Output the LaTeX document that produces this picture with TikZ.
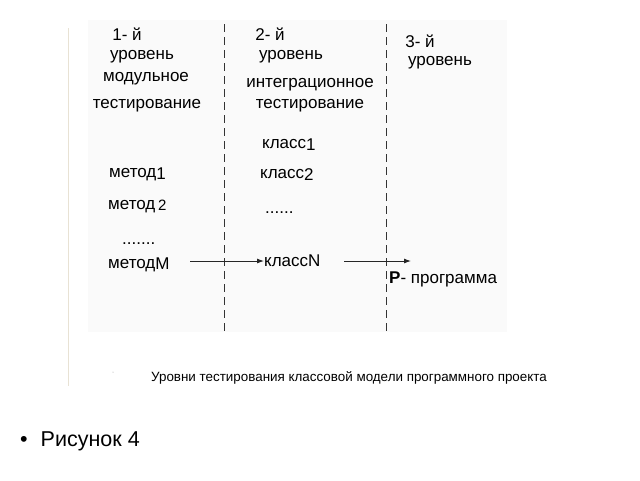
\documentclass[tikz,border=0pt]{standalone}
\usepackage{fontspec}
\setmainfont{Liberation Sans}
\usetikzlibrary{arrows.meta}
\begin{document}
\begin{tikzpicture}[x=1pt,y=-1pt,
  lbl/.style={inner sep=0pt,font=\fontsize{17}{18}\selectfont,align=center,yshift=-3pt},
  item/.style={inner sep=0pt,font=\fontsize{17}{18}\selectfont,anchor=west,yshift=-2.5pt},
  sitem/.style={item,text=black},
  sep/.style={draw=black!80,line width=0.9pt,dash pattern=on 8pt off 5pt},
  conn/.style={draw=black!85,line width=0.9pt,-{Latex[length=7pt,width=5pt]}}]
\useasboundingbox (0,0) rectangle (640,480);
\fill[black!2] (88,20) rectangle (507,332);
\draw[color={rgb,255:red,232;green,226;blue,212},line width=0.8pt] (68,28) -- (68,386);
% separators
\coordinate (s1t) at (224,24); \coordinate (s1b) at (224,332);
\coordinate (s2t) at (386,24); \coordinate (s2b) at (386,332);
\draw[sep] (s1t) -- (s1b);
\draw[sep] (s2t) -- (s2b);
% level 1
\node[lbl,yshift=2pt] (l1a) at (127,33) {1- й};
\node[lbl,yshift=-1pt] (l1b) at (142,53) {уровень};
\node[lbl] (l1c) at (146,76) {модульное};
\node[lbl] (l1d) at (147,103) {тестирование};
% level 2
\node[lbl,yshift=2pt] (l2a) at (270,33) {2- й};
\node[lbl,yshift=-1pt] (l2b) at (291,53) {уровень};
\node[lbl] (l2c) at (310,82) {интеграционное};
\node[lbl] (l2d) at (310,103) {тестирование};
% level 3
\node[lbl,yshift=2pt] (l3a) at (420,40) {3- й};
\node[lbl] (l3b) at (440,60) {уровень};
% methods
\node[sitem] (m1) at (109,172) {метод\raisebox{-2pt}{1}};
\node[sitem] (m2) at (108,204) {метод\,\raisebox{-1pt}{\fontsize{15}{16}\selectfont 2}};
\node[item,yshift=-3pt] (md) at (122,238) {.......};
\node[sitem] (mM) at (108,262) {метод\raisebox{-1pt}{М}};
% classes
\node[item] (c1) at (262,142) {класс\raisebox{-2pt}{1}};
\node[item] (c2) at (260,172) {класс\raisebox{-2pt}{2}};
\node[item,yshift=-3pt] (cd) at (265,207) {......};
\node[item] (cN) at (264,258) {классN};
% program
\node[item] (p) at (389,277) {\textbf{P}- программа};
\coordinate (ma) at (190,261);
\coordinate (ca) at (344,261);
\coordinate (pa) at (411,261);
\draw[conn] (ma) -- (cN.west |- ma);
\draw[conn] (ca) -- (pa);
% caption
\node[inner sep=0pt,font=\fontsize{13.4}{15}\selectfont] (cap) at (349,378) {Уровни тестирования классовой модели программного проекта};
\fill[black!40] (113,372) circle (0.5);
% bullet
\node[inner sep=0pt,anchor=west,font=\fontsize{21.5}{23}\selectfont] (fig) at (20,441) {•\hspace{13pt}Рисунок 4};
\end{tikzpicture}
\end{document}
